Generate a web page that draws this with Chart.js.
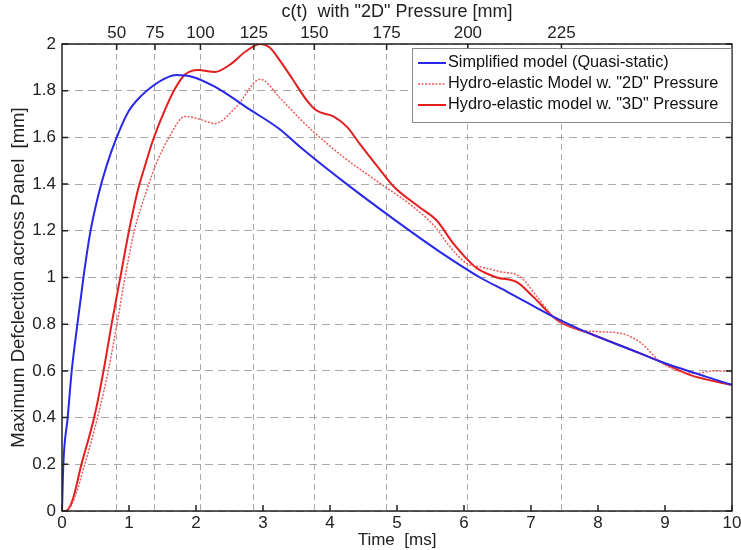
<!DOCTYPE html>
<html>
<head>
<meta charset="utf-8">
<style>
  html, body { margin: 0; padding: 0; background: #fff; }
  #wrap { width: 741px; height: 550px; }
</style>
<script src="https://cdn.jsdelivr.net/npm/chart.js@4.4.1/dist/chart.umd.min.js"></script>
</head>
<body>
<div id="wrap"><canvas id="chart"></canvas></div>
<script>
// time [ms] and deflection [mm]
const quasiTime = [0, 0.02, 0.085, 0.145, 0.23, 0.32, 0.42, 0.54, 0.667, 0.816, 0.99, 1.19, 1.34, 1.54, 1.71, 1.94, 2.28, 2.8, 3.25, 3.55, 4.25, 5.24, 5.64, 6.24, 6.64, 7.33, 7.73, 8.63, 8.93, 10];
const quasiDefl = [0, 0.2, 0.4, 0.6, 0.8, 1.0, 1.19, 1.35, 1.48, 1.6, 1.71, 1.78, 1.817, 1.853, 1.867, 1.86, 1.817, 1.72, 1.635, 1.56, 1.40, 1.19, 1.11, 1.0, 0.94, 0.832, 0.778, 0.675, 0.64, 0.54];

const hydro2DTime = [0, 0.05, 0.15, 0.34, 0.53, 0.69, 0.82, 0.94, 1.08, 1.26, 1.41, 1.59, 1.84, 2.03, 2.28, 2.6, 2.96, 3.25, 3.55, 3.75, 4.25, 4.75, 5.24, 5.59, 5.74, 6.04, 6.24, 6.54, 6.84, 7.09, 7.33, 7.43, 7.73, 8.03, 8.38, 8.63, 8.93, 9.22, 9.47, 9.72, 10];
const hydro2DDefl = [0, 0, 0.03, 0.2, 0.4, 0.6, 0.8, 1.0, 1.2, 1.37, 1.49, 1.596, 1.69, 1.68, 1.66, 1.73, 1.849, 1.77, 1.68, 1.625, 1.505, 1.403, 1.303, 1.21, 1.15, 1.06, 1.046, 1.025, 1.003, 0.918, 0.832, 0.81, 0.775, 0.768, 0.758, 0.722, 0.64, 0.597, 0.59, 0.60, 0.598];

const hydro3DTime = [0, 0.05, 0.15, 0.29, 0.48, 0.62, 0.74, 0.87, 1.0, 1.12, 1.24, 1.36, 1.54, 1.69, 1.84, 2.03, 2.28, 2.5, 2.75, 2.96, 3.1, 3.25, 3.45, 3.65, 3.8, 4.05, 4.25, 4.45, 4.75, 4.95, 5.34, 5.59, 5.84, 6.04, 6.19, 6.49, 6.79, 7.03, 7.33, 7.43, 7.88, 8.63, 8.93, 9.37, 10];
const hydro3DDefl = [0, 0, 0.04, 0.2, 0.4, 0.6, 0.8, 1.0, 1.2, 1.36, 1.48, 1.59, 1.72, 1.81, 1.87, 1.889, 1.88, 1.91, 1.97, 2.0, 1.985, 1.93, 1.846, 1.76, 1.715, 1.69, 1.646, 1.57, 1.46, 1.39, 1.30, 1.245, 1.146, 1.08, 1.04, 1.0, 0.98, 0.918, 0.832, 0.81, 0.76, 0.675, 0.64, 0.583, 0.54];

const seriesNames = ["Simplified model (Quasi-static)", "Hydro-elastic Model w. \"2D\" Pressure", "Hydro-elastic model w. \"3D\" Pressure"];

// top axis: c(t) values and the times where they occur
const cTickTimes = [0.816, 1.388, 2.066, 2.863, 3.766, 4.845, 6.058, 7.454];
const cTickLabels = ["50", "75", "100", "125", "150", "175", "200", "225"];

const FONT = "'Liberation Sans', Arial, Helvetica, sans-serif";

function toPoints(xs, ys) {
  return xs.map((x, i) => ({ x: x, y: ys[i] }));
}

// MATLAB style box and inward ticks
const boxPlugin = {
  id: "box",
  afterDraw(chart) {
    const ctx = chart.ctx;
    const a = chart.chartArea;
    const xs = chart.scales.x, x2 = chart.scales.x2, ys = chart.scales.y;
    ctx.save();
    ctx.strokeStyle = "#222";
    ctx.lineWidth = 1.5;
    ctx.setLineDash([]);
    ctx.strokeRect(a.left, a.top, a.right - a.left, a.bottom - a.top);
    ctx.beginPath();
    xs.ticks.forEach(t => {
      const px = xs.getPixelForValue(t.value);
      ctx.moveTo(px, a.bottom); ctx.lineTo(px, a.bottom - 6);
    });
    x2.ticks.forEach(t => {
      const px = x2.getPixelForValue(t.value);
      ctx.moveTo(px, a.top); ctx.lineTo(px, a.top + 6);
    });
    ys.ticks.forEach(t => {
      const py = ys.getPixelForValue(t.value);
      ctx.moveTo(a.left, py); ctx.lineTo(a.left + 6, py);
      ctx.moveTo(a.right, py); ctx.lineTo(a.right - 6, py);
    });
    ctx.stroke();
    ctx.restore();
  }
};

// legend box inside the plot, top right
const legendPlugin = {
  id: "boxLegend",
  afterDraw(chart) {
    const ctx = chart.ctx;
    const a = chart.chartArea;
    const left = 412, top = 48, w = a.right - 412, h = 75;
    ctx.save();
    ctx.fillStyle = "#fff";
    ctx.fillRect(left, top, w, h);
    ctx.strokeStyle = "#888";
    ctx.lineWidth = 1;
    ctx.strokeRect(left + 0.5, top + 0.5, w - 1, h - 1);
    ctx.font = "16.3px " + FONT;
    ctx.textBaseline = "middle";
    chart.data.datasets.forEach((ds, i) => {
      const y = top + 15 + i * 21;
      ctx.strokeStyle = ds.borderColor;
      ctx.lineWidth = ds.borderWidth;
      ctx.setLineDash(ds.borderDash || []);
      ctx.beginPath();
      ctx.moveTo(left + 6, y);
      ctx.lineTo(left + 34, y);
      ctx.stroke();
      ctx.setLineDash([]);
      ctx.fillStyle = "#111";
      ctx.fillText(ds.label, left + 36, y);
    });
    ctx.restore();
  }
};

new Chart(document.getElementById("chart"), {
  type: "line",
  data: {
    datasets: [
      {
        label: seriesNames[0],
        data: toPoints(quasiTime, quasiDefl),
        borderColor: "rgb(40, 40, 235)",
        borderWidth: 2,
        pointRadius: 0,
        cubicInterpolationMode: "monotone",
        fill: false
      },
      {
        label: seriesNames[1],
        data: toPoints(hydro2DTime, hydro2DDefl),
        borderColor: "rgb(240, 90, 90)",
        borderWidth: 1.5,
        borderDash: [2, 1.5],
        pointRadius: 0,
        cubicInterpolationMode: "monotone",
        fill: false
      },
      {
        label: seriesNames[2],
        data: toPoints(hydro3DTime, hydro3DDefl),
        borderColor: "rgb(228, 30, 30)",
        borderWidth: 2,
        pointRadius: 0,
        cubicInterpolationMode: "monotone",
        fill: false
      }
    ]
  },
  options: {
    responsive: true,
    maintainAspectRatio: false,
    animation: false,
    layout: { padding: { left: 0, right: 9, top: 0, bottom: 0 } },
    plugins: {
      legend: { display: false },
      tooltip: { enabled: false }
    },
    scales: {
      x: {
        type: "linear",
        position: "bottom",
        min: 0,
        max: 10,
        ticks: { stepSize: 1, font: { family: FONT, size: 17, lineHeight: 1 }, color: "#222", padding: 4, maxRotation: 0 },
        grid: { display: false, drawTicks: false },
        border: { display: false },
        title: { display: true, text: "Time  [ms]", font: { family: FONT, size: 17, lineHeight: 1 }, color: "#222", padding: { top: 0, bottom: 1 } },
        afterFit: s => { s.height = 39; s.paddingLeft = 0; s.paddingRight = 0; }
      },
      x2: {
        type: "linear",
        position: "top",
        min: 0,
        max: 10,
        afterBuildTicks: s => { s.ticks = cTickTimes.map(v => ({ value: v })); },
        ticks: {
          autoSkip: false,
          maxRotation: 0,
          font: { family: FONT, size: 17 },
          color: "#222",
          padding: 0,
          callback: (v, i) => cTickLabels[i]
        },
        grid: { color: "#aaa", lineWidth: 1, drawTicks: false },
        border: { display: false, dash: [6, 4] },
        title: { display: true, text: "c(t)  with \"2D\" Pressure [mm]", font: { family: FONT, size: 18, lineHeight: 1 }, color: "#222", padding: { top: 3, bottom: 4 } },
        afterFit: s => { s.height = 44; s.paddingLeft = 0; s.paddingRight = 0; }
      },
      y: {
        min: 0,
        max: 2,
        ticks: {
          stepSize: 0.2,
          font: { family: FONT, size: 17 },
          color: "#222",
          padding: 6,
          callback: v => String(Number(v.toFixed(1)))
        },
        grid: { color: "#aaa", lineWidth: 1, drawTicks: false },
        border: { display: false, dash: [8, 5] },
        title: { display: true, text: "Maximum Defclection across Panel  [mm]", font: { family: FONT, size: 18.5, lineHeight: 1 }, color: "#222", padding: { top: 10, bottom: 2 } },
        afterFit: s => { s.width = 62; }
      }
    }
  },
  plugins: [boxPlugin, legendPlugin]
});
</script>
</body>
</html>
